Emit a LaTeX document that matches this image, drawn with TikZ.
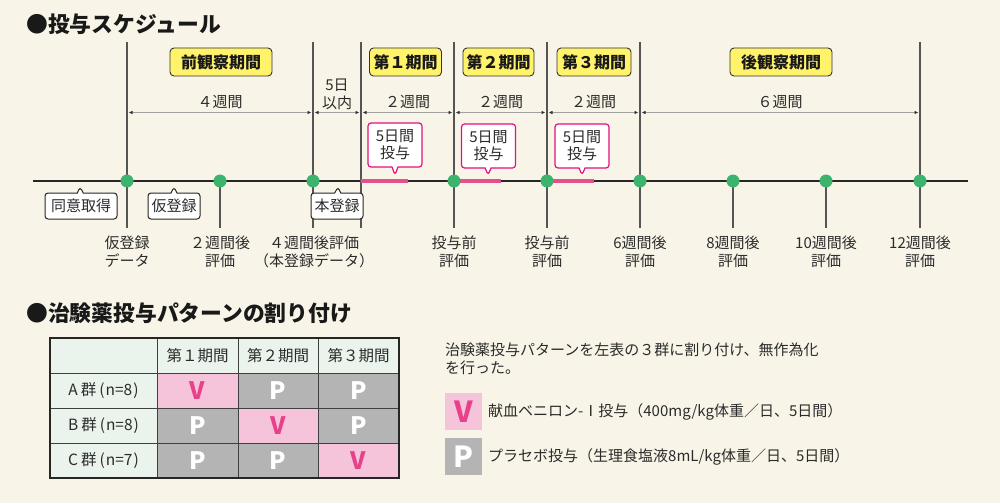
\documentclass[tikz,border=0pt]{standalone}
\usepackage{fontspec}
\setmainfont{Noto Sans CJK JP}
\usetikzlibrary{arrows.meta,shapes.callouts}
\definecolor{bg}{HTML}{F8F5E8}
\definecolor{txt}{HTML}{2B2B2B}
\definecolor{vl}{HTML}{555555}
\definecolor{dimc}{HTML}{A0A0A0}
\definecolor{arrc}{HTML}{333333}
\definecolor{dotg}{HTML}{3DB46D}
\definecolor{bar}{HTML}{E4508C}
\definecolor{mag}{HTML}{E2107F}
\definecolor{yel}{HTML}{FFF36B}
\definecolor{hdr}{HTML}{EAF4EC}
\definecolor{pinkc}{HTML}{F5C4DB}
\definecolor{grayc}{HTML}{B4B4B4}
\definecolor{vtxt}{HTML}{E8418B}
\begin{document}
\begin{tikzpicture}[x=1pt,y=-1pt,
  lbl/.style={font=\fontsize{15}{18}\selectfont, text=txt, align=center, inner sep=0pt},
  ttl/.style={font=\bfseries\fontsize{21.8}{24}\selectfont, text=black!90, anchor=west, inner sep=0pt},
  vline/.style={draw=vl, line width=1.1pt},
  dimline/.style={draw=dimc, line width=0.9pt, {Latex[length=4pt,width=3.5pt,color=arrc]}-{Latex[length=4pt,width=3.5pt,color=arrc]}, shorten <=1.5pt, shorten >=1.5pt},
  gdot/.style={circle, fill=dotg, minimum size=13pt, inner sep=0pt},
  period/.style={draw=black!80, fill=yel, rounded corners=4pt, line width=0.9pt, minimum height=28pt, text=black!90, font=\bfseries\fontsize{16}{18}\selectfont, inner sep=0pt},
  dose/.style={rectangle callout, draw=mag, fill=white, line width=1.2pt, rounded corners=3pt, minimum width=54pt, minimum height=44pt, inner sep=0pt, align=center, text=txt, font=\fontsize{15}{17}\selectfont, callout pointer width=6pt},
  evt/.style={rectangle callout, draw=black!85, fill=white, line width=1pt, rounded corners=3pt, minimum height=26pt, inner sep=0pt, text=txt, font=\fontsize{15}{17}\selectfont, callout pointer width=6pt},
  dosebar/.style={draw=bar, line width=4.5pt},
  cell/.style={inner sep=0pt, minimum height=35pt, text=txt, font=\fontsize{15.5}{18}\selectfont},
  pcell/.style={cell, fill=grayc, text=white, font=\bfseries\fontsize{24}{24}\selectfont},
  vcell/.style={cell, fill=pinkc, text=vtxt, font=\bfseries\fontsize{24}{24}\selectfont},
]
\fill[bg] (0,0) rectangle (1000,503);

% titles
\node[ttl] (t1) at (26,24) {●投与スケジュール};
\node[ttl] (t2) at (26,313) {●治験薬投与パターンの割り付け};

% timeline
\coordinate (tlL) at (33,181);
\coordinate (tlR) at (968,181);
\draw[draw=black!85, line width=1.1pt] (tlL) -- (tlR);

% vertical full lines
\foreach \n/\x in {a/127,c/313,d/361,e/454,f/547,g/640,j/920}{
  \coordinate (top\n) at (\x,42);
  \coordinate (bot\n) at (\x,228);
  \draw[vline] (top\n) -- (bot\n);
}
% short lines below dots
\foreach \n/\x in {b/220,h/733,i/826}{
  \coordinate (mid\n) at (\x,181);
  \coordinate (bot\n) at (\x,228);
  \draw[vline] (mid\n) -- (bot\n);
}

% dose bars
\foreach \n/\x in {1/361,2/454,3/547}{
  \coordinate (bs\n) at (\x,181);
  \coordinate (be\n) at (\x+46.5,181);
  \draw[dosebar] (bs\n) -- (be\n);
}

% dots
\foreach \n/\x in {a/127,b/220,c/313,e/454,f/547,g/640,h/733,i/826,j/920}{
  \node[gdot] (dot\n) at (\x,181) {};
}

% dimension lines
\foreach \n/\x in {a/127,c/313,d/361,e/454,f/547,g/640,j/920}{
  \coordinate (dm\n) at (\x,112.5);
}
\draw[dimline] (dma) -- (dmc);
\draw[dimline] (dmc) -- (dmd);
\draw[dimline] (dmd) -- (dme);
\draw[dimline] (dme) -- (dmf);
\draw[dimline] (dmf) -- (dmg);
\draw[dimline] (dmg) -- (dmj);
\node[lbl] (w1) at (220,102) {４週間};
\node[lbl] (w2) at (337,94) {5日\\以内};
\node[lbl] (w3) at (407.5,102) {２週間};
\node[lbl] (w4) at (500.5,102) {２週間};
\node[lbl] (w5) at (593.5,102) {２週間};
\node[lbl] (w6) at (780,102) {６週間};

% period boxes
\node[period, minimum width=102pt] (p0) at (221,62) {前観察期間};
\node[period, minimum width=72pt] (p1) at (405.5,62) {第１期間};
\node[period, minimum width=71pt] (p2) at (498.5,62) {第２期間};
\node[period, minimum width=74pt] (p3) at (594,62) {第３期間};
\node[period, minimum width=102pt] (p4) at (781,62) {後観察期間};

% dose callouts
\node[dose, callout absolute pointer={(395,175)}] (c1) at (395,145) {5日間\\投与};
\node[dose, callout absolute pointer={(488,175)}] (c2) at (488.5,146) {5日間\\投与};
\node[dose, callout absolute pointer={(582,175)}] (c3) at (582,146) {5日間\\投与};

% event callouts
\node[evt, minimum width=72pt, callout absolute pointer={(80,187)}] (e1) at (81,206) {同意取得};
\node[evt, minimum width=52pt, callout absolute pointer={(174,187)}] (e2) at (174,206) {仮登録};
\node[evt, minimum width=52pt, callout absolute pointer={(338,187)}] (e3) at (337,206) {本登録};

% bottom labels
\node[lbl] (l1) at (127,252) {仮登録\\データ};
\node[lbl] (l2) at (220,252) {２週間後\\評価};
\node[lbl] (l3) at (314,252) {４週間後評価\\（本登録データ）};
\node[lbl] (l4) at (454,252) {投与前\\評価};
\node[lbl] (l5) at (547,252) {投与前\\評価};
\node[lbl] (l6) at (640,252) {6週間後\\評価};
\node[lbl] (l7) at (733,252) {8週間後\\評価};
\node[lbl] (l8) at (826,252) {10週間後\\評価};
\node[lbl] (l9) at (920,252) {12週間後\\評価};

% table
\node[cell, fill=hdr, minimum width=107pt] (h0) at (103.5,355.5) {};
\node[cell, fill=hdr, minimum width=81pt] (h1) at (197.5,355.5) {第１期間};
\node[cell, fill=hdr, minimum width=80pt] (h2) at (278,355.5) {第２期間};
\node[cell, fill=hdr, minimum width=81pt] (h3) at (358.5,355.5) {第３期間};
\node[cell, fill=hdr, minimum width=107pt] (ra) at (103.5,390.5) {A\hspace{3pt}群\hspace{3pt}(\hspace{1pt}n=8\hspace{1pt})};
\node[cell, fill=hdr, minimum width=107pt] (rb) at (103.5,425.5) {B\hspace{3pt}群\hspace{3pt}(\hspace{1pt}n=8\hspace{1pt})};
\node[cell, fill=hdr, minimum width=107pt] (rc) at (103.5,460.5) {C\hspace{3pt}群\hspace{3pt}(\hspace{1pt}n=7\hspace{1pt})};
\node[vcell, minimum width=81pt] (a1) at (197.5,390.5) {V};
\node[pcell, minimum width=80pt] (a2) at (278,390.5) {P};
\node[pcell, minimum width=81pt] (a3) at (358.5,390.5) {P};
\node[pcell, minimum width=81pt] (b1) at (197.5,425.5) {P};
\node[vcell, minimum width=80pt] (b2) at (278,425.5) {V};
\node[pcell, minimum width=81pt] (b3) at (358.5,425.5) {P};
\node[pcell, minimum width=81pt] (c1t) at (197.5,460.5) {P};
\node[pcell, minimum width=80pt] (c2t) at (278,460.5) {P};
\node[vcell, minimum width=81pt] (c3t) at (358.5,460.5) {V};
\draw[draw=black!75, line width=0.9pt]
  (157,338) -- (157,478) (238,338) -- (238,478) (318,338) -- (318,478)
  (50,373) -- (399,373) (50,408) -- (399,408) (50,443) -- (399,443);
\draw[draw=black!85, line width=2pt] (50,338) rectangle (399,478);

% legend
\node[lbl, anchor=west, align=left] (n1) at (445,359) {治験薬投与パターンを左表の３群に割り付け、無作為化\\を行った。};
\node[vcell, minimum width=37pt, minimum height=37pt, font=\bfseries\fontsize{29}{29}\selectfont] (lv) at (463.5,411.5) {V};
\node[pcell, minimum width=37pt, minimum height=37pt, font=\bfseries\fontsize{29}{29}\selectfont] (lp) at (463.5,456.5) {P};
\node[lbl, anchor=west] (n2) at (488,411.5) {献血ベニロン-Ⅰ投与（400mg/kg体重／日、5日間）};
\node[lbl, anchor=west] (n3) at (488,456.5) {プラセボ投与（生理食塩液8mL/kg体重／日、5日間）};
\end{tikzpicture}
\end{document}
